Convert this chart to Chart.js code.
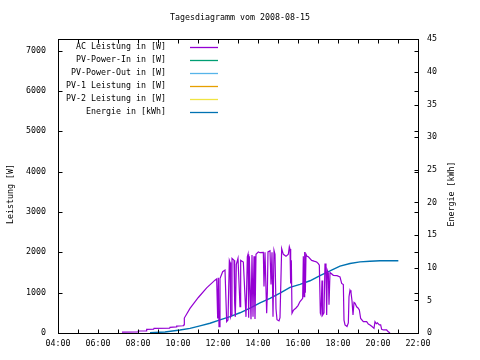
<!DOCTYPE html>
<html>
<head>
<meta charset="utf-8">
<script src="https://cdn.jsdelivr.net/npm/chart.js@4.4.1/dist/chart.umd.min.js"></script>
<style>
html, body { margin: 0; padding: 0; background: #fff; }
</style>
</head>
<body>
<canvas id="dayChart" width="480" height="360"></canvas>
<script>
const acTimes = ['07:12','08:00','08:01','08:25','08:26','08:47','08:48','09:35','09:36','09:55','09:56','10:15','10:16','10:18','10:19','10:36','11:01','11:26','11:51','11:56','11:59','12:01','12:03','12:06','12:14','12:21','12:26','12:30','12:34','12:36','12:38','12:40','12:42','12:48','12:50','12:52','12:55','13:00','13:06','13:08','13:16','13:24','13:28','13:30','13:32','13:34','13:39','13:42','13:45','13:48','13:51','13:54','14:01','14:06','14:16','14:18','14:21','14:26','14:28','14:30','14:36','14:39','14:42','14:45','14:48','14:51','14:54','14:57','15:03','15:06','15:11','15:16','15:24','15:31','15:34','15:36','15:38','15:40','15:42','15:46','15:54','16:00','16:06','16:11','16:14','16:16','16:18','16:20','16:22','16:24','16:27','16:31','16:41','16:48','16:56','17:01','17:04','17:07','17:09','17:12','17:14','17:18','17:21','17:24','17:26','17:28','17:31','17:33','17:36','17:46','17:57','18:06','18:11','18:16','18:18','18:21','18:27','18:31','18:33','18:36','18:39','18:42','18:45','18:48','18:51','18:56','19:00','19:04','19:08','19:16','19:26','19:31','19:36','19:42','19:48','19:51','19:55','19:58','20:04','20:08','20:11','20:16','20:26','20:31','20:36'];
const acWatts = [20,25,50,50,90,95,115,120,140,150,170,180,190,200,370,610,880,1120,1310,1340,360,1370,160,1350,1520,1560,280,320,1800,1750,400,450,1850,1800,740,400,1700,1850,650,1800,1760,400,1890,1950,380,1900,340,1930,400,1900,350,1950,2010,1990,2000,1150,2000,490,1000,2010,2040,1200,2000,400,2050,1950,600,330,300,380,2090,1950,1900,1950,2140,2080,1230,1800,490,560,620,680,780,830,860,1900,900,2010,1000,1950,1900,1890,1800,1780,1760,1720,1680,490,450,1300,445,500,1720,1560,445,1550,1480,700,1500,1430,1420,1390,1230,1200,320,200,160,250,900,1060,1000,800,450,760,740,650,620,570,360,280,280,220,200,160,115,280,230,250,200,200,90,75,75,30,0];

const energyTimes = ['08:36','09:21','10:06','10:36','11:06','11:36','12:06','12:36','13:06','13:36','14:06','14:36','15:06','15:36','16:06','16:36','17:06','17:36','18:06','18:36','19:06','19:36','20:06','21:01'];
const energyKwh = [0.05,0.15,0.45,0.7,1.1,1.5,2.0,2.5,3.1,3.8,4.6,5.3,6.1,7.0,7.45,8.0,8.8,9.5,10.25,10.65,10.9,11.0,11.07,11.07];

const seriesLabels = ['AC Leistung in [W]','PV-Power-In in [W]','PV-Power-Out in [W]','PV-1 Leistung in [W]','PV-2 Leistung in [W]','Energie in [kWh]'];
const seriesColors = ['#9400d3','#009e73','#56b4e9','#e69f00','#f0e442','#0072b2'];

const hourTicks = [4,6,8,10,12,14,16,18,20,22];
const wattTicks = [0,1000,2000,3000,4000,5000,6000,7000];
const kwhTicks = [0,5,10,15,20,25,30,35,40,45];

const FONT = '"DejaVu Sans Mono", monospace';
const fontSmall = { family: FONT, size: 8.3, weight: 'normal' };

function toHours(t) {
  const p = t.split(':');
  return Number(p[0]) + Number(p[1]) / 60;
}
function points(times, vals) {
  return times.map((t, i) => ({ x: toHours(t), y: vals[i] }));
}
function fixTicks(list) {
  return s => { s.ticks = list.map(v => ({ value: v })); };
}

// Rahmen, Tics nach innen, Legende und Achsentitel wie bei gnuplot
const gnuplotFrame = {
  id: 'gnuplotFrame',
  afterDatasetsDraw(chart) {
    const ctx = chart.ctx;
    const a = chart.chartArea;
    const sx = chart.scales.x, sy = chart.scales.y, sy2 = chart.scales.y2;
    const L = Math.round(a.left) + 0.5, R = Math.round(a.right) + 0.5;
    const T = Math.round(a.top) + 0.5, B = Math.round(a.bottom) + 0.5;
    ctx.save();
    ctx.strokeStyle = '#000';
    ctx.lineWidth = 1;
    ctx.strokeRect(L, T, R - L, B - T);
    ctx.beginPath();
    for (let h = 4; h <= 22; h++) {
      const px = Math.round(sx.getPixelForValue(h)) + 0.5;
      ctx.moveTo(px, B); ctx.lineTo(px, B - 4);
      ctx.moveTo(px, T); ctx.lineTo(px, T + 4);
    }
    wattTicks.forEach(v => {
      const py = Math.round(sy.getPixelForValue(v)) + 0.5;
      ctx.moveTo(L, py); ctx.lineTo(L + 4, py);
      ctx.moveTo(R, py); ctx.lineTo(R - 4, py);
    });
    kwhTicks.forEach(v => {
      const py = Math.round(sy2.getPixelForValue(v)) + 0.5;
      ctx.moveTo(R, py); ctx.lineTo(R - 4, py);
    });
    ctx.stroke();

    // Legende
    ctx.font = '8.3px ' + FONT;
    ctx.textAlign = 'right';
    ctx.textBaseline = 'middle';
    chart.data.datasets.forEach((ds, i) => {
      const y = a.top + 8 + i * 13;
      ctx.fillStyle = '#000';
      ctx.fillText(ds.label, a.left + 108, y);
      ctx.strokeStyle = ds.borderColor;
      ctx.lineWidth = 1.3;
      ctx.beginPath();
      ctx.moveTo(a.left + 132, Math.round(y) + 0.5);
      ctx.lineTo(a.left + 160, Math.round(y) + 0.5);
      ctx.stroke();
    });

    // Achsentitel
    ctx.textAlign = 'center';
    ctx.fillStyle = '#000';
    ctx.translate(11, 194);
    ctx.rotate(-Math.PI / 2);
    ctx.fillText('Leistung [W]', 0, 0);
    ctx.setTransform(1, 0, 0, 1, 0, 0);
    ctx.translate(452, 194);
    ctx.rotate(-Math.PI / 2);
    ctx.fillText('Energie [kWh]', 0, 0);
    ctx.restore();
  }
};

new Chart(document.getElementById('dayChart'), {
  type: 'line',
  data: {
    datasets: [
      { label: seriesLabels[0], data: points(acTimes, acWatts), borderColor: seriesColors[0], borderWidth: 1.2, yAxisID: 'y' },
      { label: seriesLabels[1], data: [], borderColor: seriesColors[1], borderWidth: 1, yAxisID: 'y' },
      { label: seriesLabels[2], data: [], borderColor: seriesColors[2], borderWidth: 1, yAxisID: 'y' },
      { label: seriesLabels[3], data: [], borderColor: seriesColors[3], borderWidth: 1, yAxisID: 'y' },
      { label: seriesLabels[4], data: [], borderColor: seriesColors[4], borderWidth: 1, yAxisID: 'y' },
      { label: seriesLabels[5], data: points(energyTimes, energyKwh), borderColor: seriesColors[5], borderWidth: 1.4, yAxisID: 'y2' }
    ]
  },
  options: {
    responsive: false,
    animation: false,
    devicePixelRatio: 1,
    elements: { point: { radius: 0 }, line: { tension: 0 } },
    layout: { padding: 0 },
    plugins: {
      legend: { display: false },
      tooltip: { enabled: false },
      title: {
        display: true,
        text: 'Tagesdiagramm vom 2008-08-15',
        color: '#000',
        font: fontSmall,
        padding: { top: 13, bottom: 16.3 }
      }
    },
    scales: {
      x: {
        type: 'linear', min: 4, max: 22,
        grid: { display: false, drawTicks: false },
        border: { display: false },
        afterBuildTicks: fixTicks(hourTicks),
        ticks: {
          autoSkip: false, maxRotation: 0, padding: 6,
          color: '#000', font: fontSmall,
          callback: v => String(v).padStart(2, '0') + ':00'
        },
        afterFit: s => { s.height = 27; }
      },
      y: {
        position: 'left', min: 0, max: 7280,
        grid: { display: false, drawTicks: false },
        border: { display: false },
        afterBuildTicks: fixTicks(wattTicks),
        ticks: { padding: 12, color: '#000', font: fontSmall, callback: v => String(v) },
        afterFit: s => { s.width = 58; }
      },
      y2: {
        position: 'right', min: 0, max: 45,
        grid: { display: false, drawTicks: false },
        border: { display: false },
        afterBuildTicks: fixTicks(kwhTicks),
        ticks: { padding: 9, color: '#000', font: fontSmall, callback: v => String(v) },
        afterFit: s => { s.width = 62; }
      }
    }
  },
  plugins: [gnuplotFrame]
});
</script>
</body>
</html>
